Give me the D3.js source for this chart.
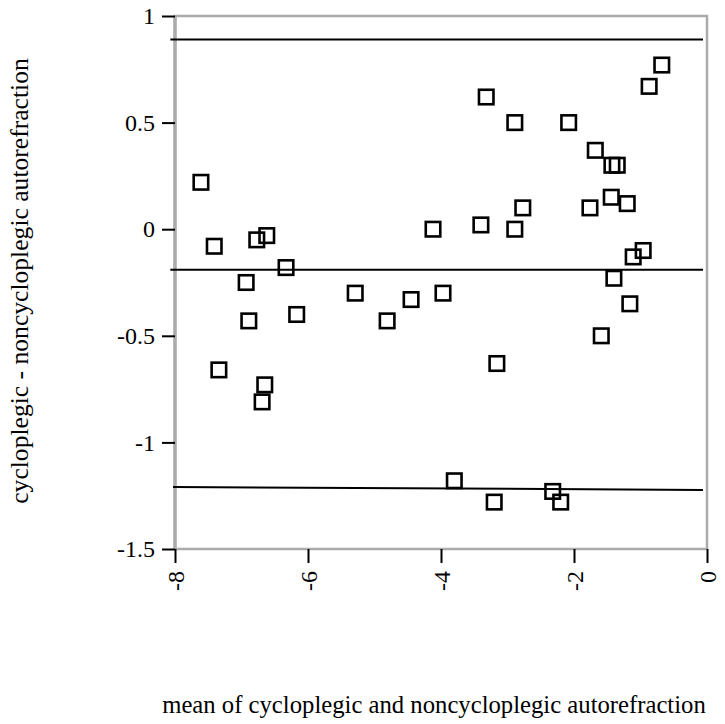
<!DOCTYPE html>
<html>
<head>
<meta charset="utf-8">
<script src="https://cdn.jsdelivr.net/npm/d3@7"></script>
<style>
  html, body { margin: 0; padding: 0; background: #fff; }
  svg { display: block; }
</style>
</head>
<body>
<div id="chart"></div>
<script>
// ---- data ----
const meanValues = [-7.61, -7.41, -7.34, -6.93, -6.89, -6.77, -6.62, -6.65, -6.69, -6.33,
  -6.17, -5.29, -4.81, -4.45, -4.12, -3.97, -3.80, -3.40, -3.32, -3.16,
  -3.20, -2.89, -2.89, -2.77, -2.32, -2.20, -2.08, -1.68, -1.76, -1.59,
  -1.43, -1.35, -1.44, -1.40, -1.20, -1.16, -1.11, -0.96, -0.87, -0.68];
const diffValues = [0.22, -0.08, -0.66, -0.25, -0.43, -0.05, -0.03, -0.73, -0.81, -0.18,
  -0.40, -0.30, -0.43, -0.33, 0.00, -0.30, -1.18, 0.02, 0.62, -0.63,
  -1.28, 0.50, 0.00, 0.10, -1.23, -1.28, 0.50, 0.37, 0.10, -0.50,
  0.30, 0.30, 0.15, -0.23, 0.12, -0.35, -0.13, -0.10, 0.67, 0.77];
// reference lines: upper limit, mean difference, lower limit
const refLineStart = [-8.07, -8.07, -8.03];
const refLineEnd = [-0.06, -0.06, -0.06];
const refLineStartY = [0.89, -0.19, -1.209];
const refLineEndY = [0.89, -0.19, -1.223];
const xTicks = [-8, -6, -4, -2, 0];
const xTickLabels = ["-8", "-6", "-4", "-2", "0"];
const yTicks = [1, 0.5, 0, -0.5, -1, -1.5];
const yTickLabels = ["1", "0.5", "0", "-0.5", "-1", "-1.5"];
const xTitle = "mean of cycloplegic and noncycloplegic autorefraction";
const yTitle = "cycloplegic - noncycloplegic autorefraction";

// ---- layout ----
const W = 725, H = 724;
const mLeft = 175, mRight = 707, mTop = 16, mBottom = 549;
const serif = '"Liberation Serif", "Times New Roman", serif';

const x = d3.scaleLinear().domain([-8, 0]).range([mLeft, mRight]);
const y = d3.scaleLinear().domain([-1.5, 1]).range([mBottom, mTop]);

const svg = d3.select("#chart").append("svg").attr("width", W).attr("height", H);

// grey frame
svg.append("rect")
  .attr("x", mLeft).attr("y", mTop)
  .attr("width", mRight - mLeft).attr("height", mBottom - mTop)
  .attr("fill", "none").attr("stroke", "#ababab").attr("stroke-width", 2.5);
svg.append("line")
  .attr("x1", mLeft).attr("x2", mLeft).attr("y1", mTop).attr("y2", mBottom)
  .attr("stroke", "#ababab").attr("stroke-width", 3.5);

// axes (ticks only; frame is the domain)
const yAxis = svg.append("g")
  .attr("transform", `translate(${mLeft},0)`)
  .call(d3.axisLeft(y).tickValues(yTicks).tickSize(13).tickPadding(7)
    .tickFormat((d, i) => yTickLabels[i]));
yAxis.select(".domain").remove();
yAxis.selectAll(".tick line").attr("stroke", "#000").attr("stroke-width", 2);
yAxis.selectAll(".tick text")
  .style("font-family", serif).style("font-size", "24px").attr("fill", "#000")
  .attr("dy", "0.32em");

const xAxis = svg.append("g")
  .attr("transform", `translate(0,${mBottom})`)
  .call(d3.axisBottom(x).tickValues(xTicks).tickSize(14)
    .tickFormat((d, i) => xTickLabels[i]));
xAxis.select(".domain").remove();
xAxis.selectAll(".tick line").attr("stroke", "#000").attr("stroke-width", 2);
xAxis.selectAll(".tick text")
  .style("font-family", serif).style("font-size", "24px").attr("fill", "#000")
  .attr("text-anchor", "end")
  .attr("transform", "rotate(-90)")
  .attr("x", -22).attr("y", 0).attr("dy", "0.34em");

// reference lines
svg.append("g").selectAll("line")
  .data(refLineStart.map((d, i) => i))
  .join("line")
  .attr("x1", i => x(refLineStart[i])).attr("y1", i => y(refLineStartY[i]))
  .attr("x2", i => x(refLineEnd[i])).attr("y2", i => y(refLineEndY[i]))
  .attr("stroke", "#000").attr("stroke-width", 2);

// points: open squares
const s = 14.5;
svg.append("g").selectAll("rect")
  .data(meanValues.map((m, i) => [m, diffValues[i]]))
  .join("rect")
  .attr("x", d => x(d[0]) - s / 2).attr("y", d => y(d[1]) - s / 2)
  .attr("width", s).attr("height", s)
  .attr("fill", "none").attr("stroke", "#000").attr("stroke-width", 2.6);

// titles
svg.append("text")
  .attr("x", 434).attr("y", 713)
  .attr("text-anchor", "middle")
  .style("font-family", serif).style("font-size", "24.7px").attr("fill", "#000")
  .text(xTitle);
svg.append("text")
  .attr("transform", "translate(28,281) rotate(-90)")
  .attr("text-anchor", "middle")
  .style("font-family", serif).style("font-size", "25.6px").attr("fill", "#000")
  .text(yTitle);
</script>
</body>
</html>
